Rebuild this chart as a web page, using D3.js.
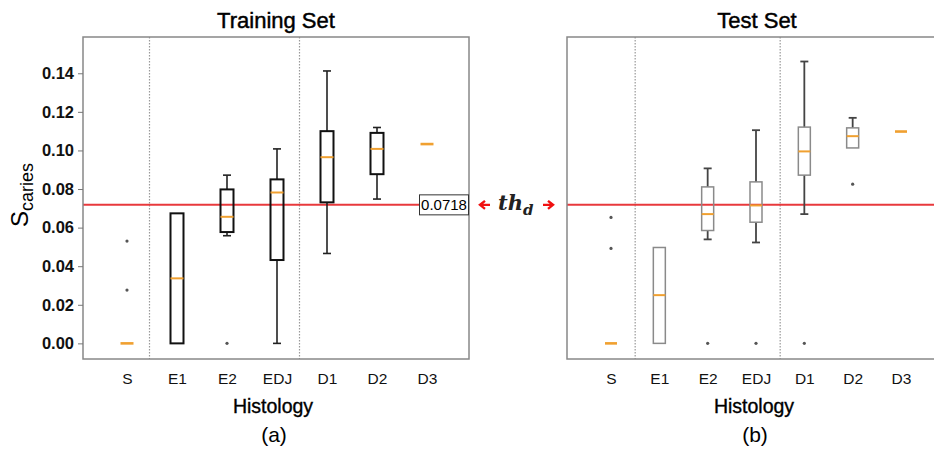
<!DOCTYPE html>
<html>
<head>
<meta charset="utf-8">
<script src="https://cdn.jsdelivr.net/npm/d3@7"></script>
<style>
  body { margin: 0; background: #fff; }
  text { font-family: 'Liberation Sans', Arial, sans-serif; }
</style>
</head>
<body>
<div id="chart"></div>
<script>
// categories + tick values
const categories = ['S', 'E1', 'E2', 'EDJ', 'D1', 'D2', 'D3'];
const groupBreaks = ['S', 'EDJ'];
const yTicks = [0, 0.02, 0.04, 0.06, 0.08, 0.1, 0.12, 0.14];
const threshold = 0.0718;

// training set box stats
const trainMin = [0, 0, 0.0558, 0, 0.0466, 0.0748, 0.1033];
const trainQ1 = [0, 0, 0.0577, 0.0432, 0.0731, 0.0877, 0.1033];
const trainMed = [0, 0.0337, 0.0656, 0.0782, 0.0965, 0.1008, 0.1033];
const trainQ3 = [0, 0.0674, 0.0798, 0.085, 0.11, 0.1091, 0.1033];
const trainMax = [0, 0.0674, 0.0872, 0.1008, 0.1412, 0.1119, 0.1033];
const trainOut = [[0.053, 0.0276], [], [0], [], [], [], []];

// test set box stats
const testMin = [0, 0, 0.0539, 0.0523, 0.067, 0.1013, 0.1098];
const testQ1 = [0, 0, 0.0585, 0.0628, 0.0872, 0.1013, 0.1098];
const testMed = [0, 0.025, 0.067, 0.0715, 0.0995, 0.1074, 0.1098];
const testQ3 = [0, 0.0497, 0.0811, 0.0837, 0.1121, 0.1117, 0.1098];
const testMax = [0, 0.0497, 0.0907, 0.1105, 0.1461, 0.1169, 0.1098];
const testOut = [[0.0653, 0.0492], [], [0], [0], [0], [0.0825], []];

const w = 934;
const h = 453;
const plotTop = 37;
const plotBottom = 359;
const orange = '#f0a030';
const red = '#e8393c';

const svg = d3.select('#chart').append('svg').attr('width', w).attr('height', h);

const y = d3.scaleLinear().domain([-0.0081, 0.1588]).range([plotBottom, plotTop]);

const drawPanel = (p) => {
  const g = svg.append('g');
  const x = d3
    .scalePoint()
    .domain(categories)
    .range([p.x0 + 44, p.x1 - 42]);
  const step = x.step();

  const rows = categories.map((c, i) => ({
    c,
    min: p.min[i],
    q1: p.q1[i],
    med: p.med[i],
    q3: p.q3[i],
    max: p.max[i],
    out: p.out[i]
  }));

  // separators
  g.selectAll('.sep')
    .data(groupBreaks)
    .enter()
    .append('line')
    .attr('x1', (d) => x(d) + step * p.sepAt)
    .attr('x2', (d) => x(d) + step * p.sepAt)
    .attr('y1', plotTop)
    .attr('y2', plotBottom)
    .attr('stroke', '#999')
    .attr('stroke-width', 1.2)
    .attr('stroke-dasharray', '1.5,1.5');

  // threshold line
  g.append('line')
    .attr('x1', p.x0)
    .attr('x2', p.lineEnd)
    .attr('y1', y(threshold))
    .attr('y2', y(threshold))
    .attr('stroke', red)
    .attr('stroke-width', 2);

  const box = g.selectAll('.box').data(rows).enter().append('g');

  // whiskers
  const whisk = [
    ['min', 'q1'],
    ['max', 'q3']
  ];
  whisk.forEach(([a, b]) => {
    const sel = box.filter((d) => d[a] !== d[b]);
    sel.append('line')
      .attr('x1', (d) => x(d.c))
      .attr('x2', (d) => x(d.c))
      .attr('y1', (d) => y(d[a]))
      .attr('y2', (d) => y(d[b]))
      .attr('stroke', p.whiskColor)
      .attr('stroke-width', p.whiskWidth);
    sel.append('line')
      .attr('x1', (d) => x(d.c) - p.cap / 2)
      .attr('x2', (d) => x(d.c) + p.cap / 2)
      .attr('y1', (d) => y(d[a]))
      .attr('y2', (d) => y(d[a]))
      .attr('stroke', p.whiskColor)
      .attr('stroke-width', p.whiskWidth);
  });

  box.filter((d) => d.q3 !== d.q1)
    .append('rect')
    .attr('x', (d) => x(d.c) - p.boxW / 2)
    .attr('width', p.boxW)
    .attr('y', (d) => y(d.q3))
    .attr('height', (d) => y(d.q1) - y(d.q3))
    .attr('fill', 'none')
    .attr('stroke', p.boxColor)
    .attr('stroke-width', p.boxStroke);

  box.append('line')
    .attr('x1', (d) => x(d.c) - p.boxW / 2)
    .attr('x2', (d) => x(d.c) + p.boxW / 2)
    .attr('y1', (d) => y(d.med))
    .attr('y2', (d) => y(d.med))
    .attr('stroke', orange)
    .attr('stroke-width', (d) => (d.q1 === d.q3 ? 2.6 : 2));

  box.selectAll('circle')
    .data((d) => d.out.map((v) => ({ c: d.c, v })))
    .enter()
    .append('circle')
    .attr('cx', (d) => x(d.c))
    .attr('cy', (d) => y(d.v))
    .attr('r', 1.6)
    .attr('fill', '#555');

  // frame
  g.append('rect')
    .attr('x', p.x0)
    .attr('y', plotTop)
    .attr('width', p.x1 - p.x0)
    .attr('height', plotBottom - plotTop)
    .attr('fill', 'none')
    .attr('stroke', '#888')
    .attr('stroke-width', 1.5);

  // x axis labels
  const axX = g.append('g')
    .attr('transform', `translate(0, ${plotBottom})`)
    .call(d3.axisBottom(x).tickSize(0).tickPadding(14));
  axX.select('.domain').remove();
  axX.selectAll('text')
    .style('font-family', "'Liberation Sans', Arial, sans-serif")
    .style('font-size', '15.5px')
    .attr('fill', '#111');

  g.append('text')
    .attr('x', p.titleX)
    .attr('y', 28)
    .attr('text-anchor', 'middle')
    .style('font-size', '22px')
    .attr('stroke', '#000')
    .attr('stroke-width', 0.45)
    .text(p.title);
  g.append('text')
    .attr('x', p.titleX - 3)
    .attr('y', 413)
    .attr('text-anchor', 'middle')
    .style('font-size', '19.5px')
    .attr('stroke', '#000')
    .attr('stroke-width', 0.35)
    .text('Histology');
  g.append('text')
    .attr('x', p.titleX - 2)
    .attr('y', 442)
    .attr('text-anchor', 'middle')
    .style('font-size', '21px')
    .text(p.tag);

  return x;
};

drawPanel({
  x0: 83, x1: 469, lineEnd: 419.5, titleX: 276, sepAt: 0.45,
  title: 'Training Set', tag: '(a)',
  min: trainMin, q1: trainQ1, med: trainMed, q3: trainQ3, max: trainMax, out: trainOut,
  boxColor: '#111', boxStroke: 2, boxW: 13, whiskColor: '#222', whiskWidth: 1.6, cap: 8
});

drawPanel({
  x0: 567, x1: 943, lineEnd: w, titleX: 757, sepAt: 0.5,
  title: 'Test Set', tag: '(b)',
  min: testMin, q1: testQ1, med: testMed, q3: testQ3, max: testMax, out: testOut,
  boxColor: '#8a8a8a', boxStroke: 1.5, boxW: 12, whiskColor: '#444', whiskWidth: 1.8, cap: 8
});

// y axis (left panel only)
const axY = svg.append('g')
  .attr('transform', 'translate(83, 0)')
  .call(d3.axisLeft(y).tickValues(yTicks).tickFormat(d3.format('.2f')).tickSize(5).tickPadding(4));
axY.select('.domain').remove();
axY.selectAll('line').attr('stroke', '#777');
axY.selectAll('text')
  .style('font-family', "'Liberation Sans', Arial, sans-serif")
  .style('font-size', '16.5px')
  .style('font-weight', 'bold')
  .attr('fill', '#111');

// y label S_caries
const yl = svg.append('text')
  .attr('transform', 'translate(28, 195) rotate(-90)')
  .attr('text-anchor', 'middle');
yl.append('tspan').style('font-size', '24px').text('S');
yl.append('tspan').attr('dy', 5).style('font-size', '18px').text('caries');

// threshold value label
const ty = y(threshold);
svg.append('rect')
  .attr('x', 419.5)
  .attr('y', ty - 10)
  .attr('width', 49)
  .attr('height', 20)
  .attr('fill', '#fff')
  .attr('stroke', '#333')
  .attr('stroke-width', 1);
svg.append('text')
  .attr('x', 444)
  .attr('y', ty + 5.5)
  .attr('text-anchor', 'middle')
  .style('font-size', '15px')
  .text(threshold.toFixed(4));

// th_d annotation with arrows
const arrow = (xTip, dir) => {
  const s = dir;
  svg.append('path')
    .attr('d', `M${xTip + 5 * s},${ty - 4} L${xTip},${ty} L${xTip + 5 * s},${ty + 4} M${xTip},${ty} L${xTip + 10 * s},${ty}`)
    .attr('fill', 'none')
    .attr('stroke', '#f01010')
    .attr('stroke-width', 2.4);
};
arrow(480, 1);
arrow(553, -1);

const th = svg.append('text')
  .attr('x', 498)
  .attr('y', ty + 5)
  .style('font-family', "'DejaVu Serif', serif")
  .style('font-weight', 'bold')
  .style('font-style', 'italic')
  .style('font-size', '21px')
  .attr('fill', '#222');
th.append('tspan').text('th');
th.append('tspan').attr('dy', 5).style('font-size', '15px').text('d');
</script>
</body>
</html>
